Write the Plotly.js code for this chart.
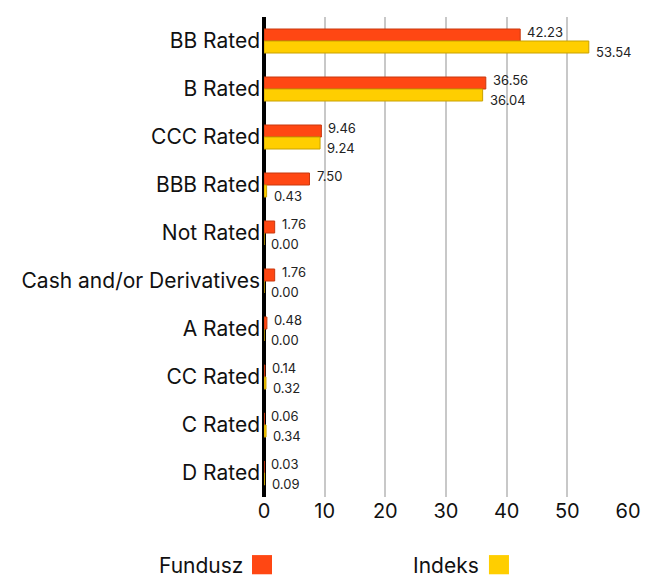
<!DOCTYPE html>
<html><head><meta charset="utf-8">
<script src="https://cdn.plot.ly/plotly-3.0.1.min.js"></script>
<style>body{margin:0;padding:0;background:#fff}#chart{width:654px;height:578px}</style>
</head><body><div id="chart"></div>
<script>
const categories = ["BB Rated","B Rated","CCC Rated","BBB Rated","Not Rated","Cash and/or Derivatives","A Rated","CC Rated","C Rated","D Rated"];
const fundusz = [42.23,36.56,9.46,7.50,1.76,1.76,0.48,0.14,0.06,0.03];
const indeks = [53.54,36.04,9.24,0.43,0.00,0.00,0.00,0.32,0.34,0.09];
const seriesNames = ["Fundusz","Indeks"];
const colors = ["#FF4713","#FFCE00"];
const lineColors = ["#C8380F","#C9A200"];
const font = "Inter, 'Open Sans', sans-serif";

const seriesVals = [fundusz, indeks];
const traces = seriesVals.map((vals, i) => ({
  type: "bar", orientation: "h", name: seriesNames[i],
  y: categories, x: vals,
  marker: {color: colors[i], line: {color: lineColors[i], width: 1}},
  hoverinfo: "x+y"
}));

const labelShift = [9, -11];
const annotations = [];
seriesVals.forEach((vals, i) => {
  vals.forEach((v, k) => {
    annotations.push({
      xref: "x", yref: "y", x: v, y: categories[k], xanchor: "left", yanchor: "middle",
      xshift: 5, yshift: labelShift[i], showarrow: false, text: v.toFixed(2),
      font: {family: font, size: 13, color: "#222"}
    });
  });
});
seriesNames.forEach((n, i) => annotations.push({
  xref: "paper", yref: "paper", x: [-0.052, 0.596][i], y: -0.142, xanchor: "right", yanchor: "middle",
  text: n, showarrow: false, font: {family: font, size: 21, color: "#111"}
}));
const shapes = colors.map((c, i) => ({
  type: "rect", xref: "paper", yref: "paper",
  x0: [-0.033, 0.618][i], x1: [0.022, 0.673][i], y0: -0.161, y1: -0.121,
  fillcolor: c, line: {width: 0}
}));

Plotly.newPlot("chart", traces, {
  width: 654, height: 578,
  margin: {l: 264, r: 26, t: 17, b: 81},
  barmode: "group", bargap: 0.5, bargroupgap: 0,
  showlegend: false,
  font: {family: font, color: "#111"},
  xaxis: {range: [0, 60], tickvals: [0,10,20,30,40,50,60], showgrid: true, gridcolor: "#c8c8c8", gridwidth: 2,
    zeroline: true, zerolinecolor: "#000", zerolinewidth: 4, showline: false, ticks: "",
    tickfont: {family: font, size: 20, color: "#111"}, fixedrange: true},
  yaxis: {autorange: "reversed", showgrid: false, zeroline: false, ticks: "", ticklen: 0,
    ticklabelstandoff: 3,
    tickfont: {family: font, size: 21, color: "#111"}, automargin: false},
  annotations: annotations, shapes: shapes,
  plot_bgcolor: "#fff", paper_bgcolor: "#fff"
}, {displayModeBar: false, staticPlot: true});
</script></body></html>
